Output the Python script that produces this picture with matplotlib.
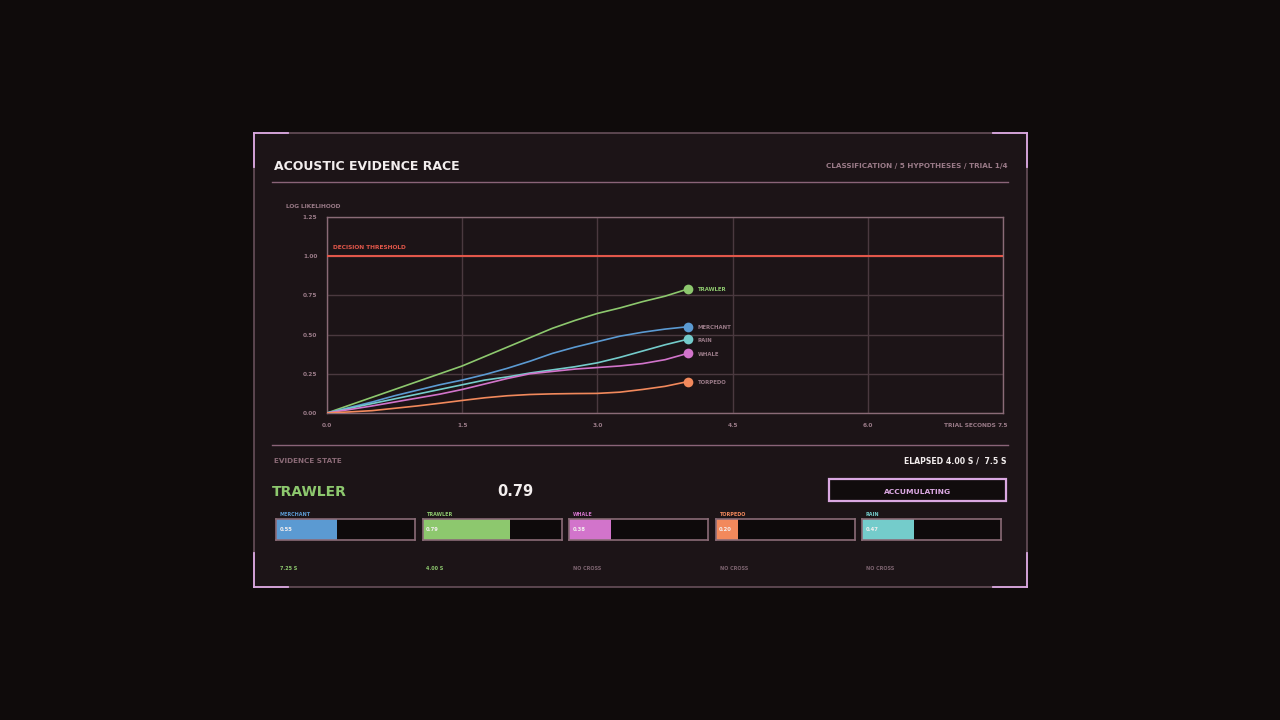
import matplotlib
matplotlib.use("Agg")
import matplotlib.pyplot as plt
from matplotlib.patches import Rectangle
from matplotlib.lines import Line2D

plt.rcParams['font.family'] = ['DejaVu Sans']

# ---------------- data ----------------
time_s = [0, 0.25, 0.5, 0.75, 1.0, 1.25, 1.5, 1.75, 2.0, 2.25, 2.5, 2.75, 3.0, 3.25, 3.5, 3.75, 4.0]
trawler = [0, .05, .10, .15, .20, .25, .30, .36, .42, .48, .54, .59, .635, .67, .71, .745, .79]
merchant = [0, .035, .07, .11, .145, .18, .21, .245, .285, .33, .38, .42, .455, .49, .515, .535, .55]
rain = [0, .03, .06, .09, .12, .15, .18, .21, .23, .255, .275, .295, .32, .355, .395, .435, .47]
whale = [0, .022, .045, .07, .095, .12, .15, .185, .22, .25, .265, .28, .29, .30, .315, .34, .38]
torpedo = [0, .007, .015, .03, .045, .062, .08, .097, .11, .118, .122, .124, .125, .133, .15, .17, .20]

series_names = ["TRAWLER", "MERCHANT", "RAIN", "WHALE", "TORPEDO"]
series_values = [trawler, merchant, rain, whale, torpedo]
series_colors = ["#8dc86e", "#5b9ad2", "#74cccb", "#d274cb", "#f2895c"]

bar_names = ["MERCHANT", "TRAWLER", "WHALE", "TORPEDO", "RAIN"]
bar_values = [0.55, 0.79, 0.38, 0.20, 0.47]
bar_colors = ["#5b9ad2", "#8dc86e", "#d274cb", "#f2895c", "#74cccb"]
bar_cross = ["7.25 S", "4.00 S", "NO CROSS", "NO CROSS", "NO CROSS"]

x_ticks = [0.0, 1.5, 3.0, 4.5, 6.0, 7.5]
y_ticks = [0.0, 0.25, 0.5, 0.75, 1.0, 1.25]
threshold = 1.0
x_max = 7.5
y_max = 1.25

# ---------------- style ----------------
BG = "#0f0b0b"
PANEL = "#1c1417"
BORDER = "#6e5560"
LILAC = "#dba8e2"
MUTED = "#9a7b88"
GRID = "#4a393f"
SPINE = "#8a6b77"
RED = "#e2574a"
WHITE = "#f3eeee"

W, H = 1280, 720
fig = plt.figure(figsize=(12.8, 7.2), dpi=100, facecolor=BG)


def P(x, y):
    return (x / W, 1 - y / H)


def ftext(x, y, s, **kw):
    fx, fy = P(x, y)
    fig.text(fx, fy, s, **kw)


def fline(x0, y0, x1, y1, **kw):
    a, b = P(x0, y0)
    c, d = P(x1, y1)
    fig.add_artist(Line2D([a, c], [b, d], transform=fig.transFigure, **kw))


# panel
px0, py0, px1, py1 = 254, 133, 1027, 587
a, b = P(px0, py1)
fig.add_artist(Rectangle((a, b), (px1 - px0) / W, (py1 - py0) / H, transform=fig.transFigure,
                         facecolor=PANEL, edgecolor=BORDER, lw=1.1, zorder=0))
# corner brackets
L = 34
for (cx, cy, dx, dy) in [(px0, py0, 1, 1), (px1, py0, -1, 1), (px0, py1, 1, -1), (px1, py1, -1, -1)]:
    fline(cx, cy, cx + dx * L, cy, color=LILAC, lw=1.3, zorder=5)
    fline(cx, cy, cx, cy + dy * L, color=LILAC, lw=1.3, zorder=5)

# header
ftext(274, 166, "ACOUSTIC EVIDENCE RACE", color=WHITE, fontsize=9.0, fontweight="heavy", va="center", ha="left")
ftext(1007, 166, "CLASSIFICATION / 5 HYPOTHESES / TRIAL 1/4", color=MUTED, fontsize=5.2,
      fontweight="bold", va="center", ha="right")
fline(272, 181.5, 1008, 181.5, color="#8a6478", lw=1.0)
fline(272, 444.5, 1008, 444.5, color="#8a6478", lw=1.0)

# ---------------- main chart ----------------
ax_l, ax_r, ax_t, ax_b = 327, 1003, 217, 413
l, bt = P(ax_l, ax_b)
ax = fig.add_axes([l, bt, (ax_r - ax_l) / W, (ax_b - ax_t) / H])
ax.set_facecolor(PANEL)
ax.set_xlim(0, x_max)
ax.set_ylim(0, y_max)
ax.set_xticks(x_ticks)
ax.set_yticks(y_ticks)
ax.set_xticklabels([f"{v:.1f}" for v in x_ticks])
ax.set_yticklabels([f"{v:.2f}" for v in y_ticks])
ax.grid(True, color=GRID, lw=1.0)
ax.set_axisbelow(True)
for s in ax.spines.values():
    s.set_color(SPINE)
    s.set_linewidth(1.0)
ax.tick_params(length=0, colors=MUTED, labelsize=4.2, pad=7)
for lab in ax.get_xticklabels() + ax.get_yticklabels():
    lab.set_fontweight("bold")
ax.axhline(threshold, color=RED, lw=1.5, zorder=3)
ax.text(0.07, threshold + 0.04, "DECISION THRESHOLD", color=RED, fontsize=4.2, fontweight="bold",
        va="bottom", ha="left")

for name, vals, col in zip(series_names, series_values, series_colors):
    ax.plot(time_s, vals, color=col, lw=1.2, zorder=4, solid_capstyle="round", solid_joinstyle="round")
    ax.plot([time_s[-1]], [vals[-1]], "o", color=col, ms=7, zorder=5, mec="none")
    lcol = col if name == "TRAWLER" else MUTED
    ax.text(time_s[-1] + 0.11, vals[-1] - 0.005, name, color=lcol, fontsize=3.9, fontweight="bold",
            va="center", ha="left", zorder=6)

ftext(286, 207, "LOG LIKELIHOOD", color=MUTED, fontsize=4.2, fontweight="bold", va="center", ha="left")
ftext(996, 425.5, "TRIAL SECONDS", color=MUTED, fontsize=4.2, fontweight="bold", va="center", ha="right")

# ---------------- evidence state ----------------
ftext(274, 461, "EVIDENCE STATE", color="#8a6a76", fontsize=5.2, fontweight="bold", va="center", ha="left")
ftext(1007, 461, "ELAPSED 4.00 S /  7.5 S", color=WHITE, fontsize=5.6, fontweight="bold", va="center", ha="right")

lead_idx = max(range(len(bar_values)), key=lambda i: bar_values[i])
ftext(272, 492, bar_names[lead_idx], color=bar_colors[lead_idx], fontsize=10, fontweight="heavy",
      va="center", ha="left")
ftext(515, 492, f"{bar_values[lead_idx]:.2f}", color=WHITE, fontsize=10.5, fontweight="bold",
      va="center", ha="center")

# accumulating box
a, b = P(829, 501)
fig.add_artist(Rectangle((a, b), (1006 - 829) / W, (501 - 479) / H, transform=fig.transFigure,
                         facecolor="#110c0d", edgecolor=LILAC, lw=1.6, zorder=3))
ftext(917.5, 491.5, "ACCUMULATING", color=LILAC, fontsize=5.4, fontweight="bold", va="center", ha="center")

# bars
bx0 = 276
bstep = 146.5
bw = 139
by0, by1 = 519, 540
for i, (name, val, col, cross) in enumerate(zip(bar_names, bar_values, bar_colors, bar_cross)):
    x0 = bx0 + i * bstep
    l, bt = P(x0, by1)
    bax = fig.add_axes([l, bt, bw / W, (by1 - by0) / H])
    bax.set_facecolor("#0e0a0b")
    bax.set_xlim(0, y_max)
    bax.set_ylim(0, 1)
    bax.barh([0.5], [val], height=1.0, color=col, zorder=2)
    bax.set_xticks([])
    bax.set_yticks([])
    for s in bax.spines.values():
        s.set_color(SPINE)
        s.set_linewidth(1.2)
    bax.text(0.025, 0.5, f"{val:.2f}", transform=bax.transAxes, color=WHITE, fontsize=3.8,
             fontweight="bold", va="center", ha="left", zorder=3)
    ftext(x0 + 4, 514, name, color=col, fontsize=3.5, fontweight="bold", va="center", ha="left")
    ccol = "#8dc86e" if cross != "NO CROSS" else "#7d6470"
    ftext(x0 + 4, 569, cross, color=ccol, fontsize=3.5, fontweight="bold", va="center", ha="left")

fig.savefig("out.png", dpi=100, facecolor=BG)
